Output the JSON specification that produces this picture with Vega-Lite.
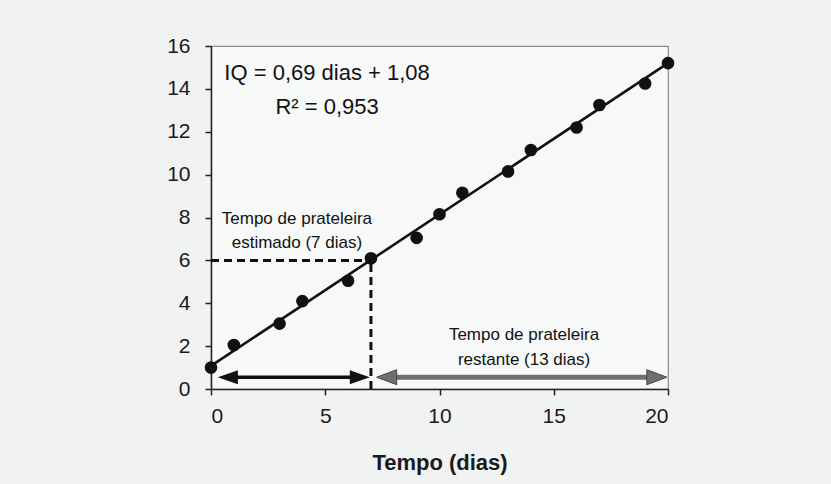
{
  "$schema": "https://vega.github.io/schema/vega-lite/v6.json",
  "width": 457,
  "height": 343,
  "autosize": "none",
  "padding": {"left": 211, "top": 46, "right": 163, "bottom": 95},
  "background": "#f1f2f2",
  "config": {
    "font": "Liberation Sans",
    "view": {"stroke": "#8a8a8a", "strokeWidth": 1.2, "fill": "#f7f8f8"},
    "axis": {
      "grid": false,
      "domainColor": "#222",
      "domainWidth": 1.5,
      "tickColor": "#222",
      "tickWidth": 1.5,
      "tickSize": 6,
      "labelFont": "Liberation Sans",
      "labelFontSize": 21,
      "labelColor": "#1a1a1a",
      "titleFont": "Liberation Sans",
      "titleColor": "#1a1a1a"
    }
  },
  "datasets": {
    "obs": [
      {"dias": 0, "IQ": 1.0},
      {"dias": 1, "IQ": 2.05},
      {"dias": 3, "IQ": 3.05},
      {"dias": 4, "IQ": 4.1},
      {"dias": 6, "IQ": 5.05},
      {"dias": 7, "IQ": 6.1},
      {"dias": 9, "IQ": 7.05},
      {"dias": 10, "IQ": 8.15},
      {"dias": 11, "IQ": 9.15},
      {"dias": 13, "IQ": 10.15},
      {"dias": 14, "IQ": 11.15},
      {"dias": 16, "IQ": 12.2},
      {"dias": 17, "IQ": 13.25},
      {"dias": 19, "IQ": 14.25},
      {"dias": 20, "IQ": 15.2}
    ],
    "fit": [
      {"dias": 0, "IQ": 1.08},
      {"dias": 20, "IQ": 15.2}
    ],
    "dash": [
      {"x": 0, "x2": 7, "y": 6, "y2": 6},
      {"x": 7, "x2": 7, "y": 0, "y2": 6}
    ],
    "blackShaft": [{"x": 0.8, "x2": 6.5, "y": 0.55, "y2": 0.55}],
    "grayShaft": [{"x": 7.7, "x2": 19.4, "y": 0.55, "y2": 0.55}],
    "blackLeft": [{"x": 0.3, "y": 0.55}],
    "blackRight": [{"x": 6.95, "y": 0.55}],
    "grayLeft": [{"x": 7.25, "y": 0.55}],
    "grayRight": [{"x": 19.95, "y": 0.55}],
    "eq": [
      {"x": 5.08, "y": 14.75, "t": "IQ = 0,69 dias + 1,08"},
      {"x": 5.08, "y": 13.17, "t": "R² = 0,953"}
    ],
    "notes": [
      {"x": 3.76, "y": 7.95, "t": "Tempo de prateleira"},
      {"x": 3.76, "y": 6.82, "t": "estimado (7 dias)"},
      {"x": 13.7, "y": 2.5, "t": "Tempo de prateleira"},
      {"x": 13.7, "y": 1.37, "t": "restante (13 dias)"}
    ]
  },
  "layer": [
    {
      "data": {"name": "dash"},
      "mark": {"type": "rule", "stroke": "#111", "strokeWidth": 3, "strokeDash": [8, 5]},
      "encoding": {
        "x": {"field": "x", "type": "quantitative"},
        "x2": {"field": "x2"},
        "y": {"field": "y", "type": "quantitative"},
        "y2": {"field": "y2"}
      }
    },
    {
      "data": {"name": "fit"},
      "mark": {"type": "line", "stroke": "#111", "strokeWidth": 2.6},
      "encoding": {
        "x": {"field": "dias", "type": "quantitative"},
        "y": {"field": "IQ", "type": "quantitative"}
      }
    },
    {
      "data": {"name": "obs"},
      "mark": {"type": "point", "filled": true, "fill": "#111", "opacity": 1, "size": 160, "shape": "circle"},
      "encoding": {
        "x": {
          "field": "dias", "type": "quantitative",
          "scale": {"domain": [0, 20], "nice": false},
          "axis": {"values": [0, 5, 10, 15, 20], "title": "Tempo (dias)", "titleFontSize": 22, "titleFontWeight": "bold", "titlePadding": 26, "labelPadding": 10}
        },
        "y": {
          "field": "IQ", "type": "quantitative",
          "scale": {"domain": [0, 16], "nice": false},
          "axis": {"values": [0, 2, 4, 6, 8, 10, 12, 14, 16], "title": null, "labelPadding": 15}
        }
      }
    },
    {
      "data": {"name": "blackShaft"},
      "mark": {"type": "rule", "stroke": "#111", "strokeWidth": 3.5},
      "encoding": {
        "x": {"field": "x", "type": "quantitative"},
        "x2": {"field": "x2"},
        "y": {"field": "y", "type": "quantitative"},
        "y2": {"field": "y2"}
      }
    },
    {
      "data": {"name": "grayShaft"},
      "mark": {"type": "rule", "stroke": "#6f6f6f", "strokeWidth": 5},
      "encoding": {
        "x": {"field": "x", "type": "quantitative"},
        "x2": {"field": "x2"},
        "y": {"field": "y", "type": "quantitative"},
        "y2": {"field": "y2"}
      }
    },
    {
      "data": {"name": "blackLeft"},
      "mark": {"type": "point", "filled": true, "fill": "#111", "opacity": 1, "size": 400, "shape": "M0,0 L2,-0.7 L2,0.7 Z"},
      "encoding": {
        "x": {"field": "x", "type": "quantitative"},
        "y": {"field": "y", "type": "quantitative"}
      }
    },
    {
      "data": {"name": "blackRight"},
      "mark": {"type": "point", "filled": true, "fill": "#111", "opacity": 1, "size": 400, "shape": "M0,0 L-2,-0.7 L-2,0.7 Z"},
      "encoding": {
        "x": {"field": "x", "type": "quantitative"},
        "y": {"field": "y", "type": "quantitative"}
      }
    },
    {
      "data": {"name": "grayLeft"},
      "mark": {"type": "point", "filled": true, "fill": "#6f6f6f", "stroke": "#444", "strokeWidth": 1, "opacity": 1, "size": 400, "shape": "M0,0 L2,-0.75 L2,0.75 Z"},
      "encoding": {
        "x": {"field": "x", "type": "quantitative"},
        "y": {"field": "y", "type": "quantitative"}
      }
    },
    {
      "data": {"name": "grayRight"},
      "mark": {"type": "point", "filled": true, "fill": "#6f6f6f", "stroke": "#444", "strokeWidth": 1, "opacity": 1, "size": 400, "shape": "M0,0 L-2,-0.75 L-2,0.75 Z"},
      "encoding": {
        "x": {"field": "x", "type": "quantitative"},
        "y": {"field": "y", "type": "quantitative"}
      }
    },
    {
      "data": {"name": "eq"},
      "mark": {"type": "text", "font": "Liberation Sans", "fontSize": 22, "color": "#111", "align": "center", "baseline": "middle"},
      "encoding": {
        "x": {"field": "x", "type": "quantitative"},
        "y": {"field": "y", "type": "quantitative"},
        "text": {"field": "t"}
      }
    },
    {
      "data": {"name": "notes"},
      "mark": {"type": "text", "font": "Liberation Sans", "fontSize": 17, "color": "#111", "align": "center", "baseline": "middle"},
      "encoding": {
        "x": {"field": "x", "type": "quantitative"},
        "y": {"field": "y", "type": "quantitative"},
        "text": {"field": "t"}
      }
    }
  ]
}
